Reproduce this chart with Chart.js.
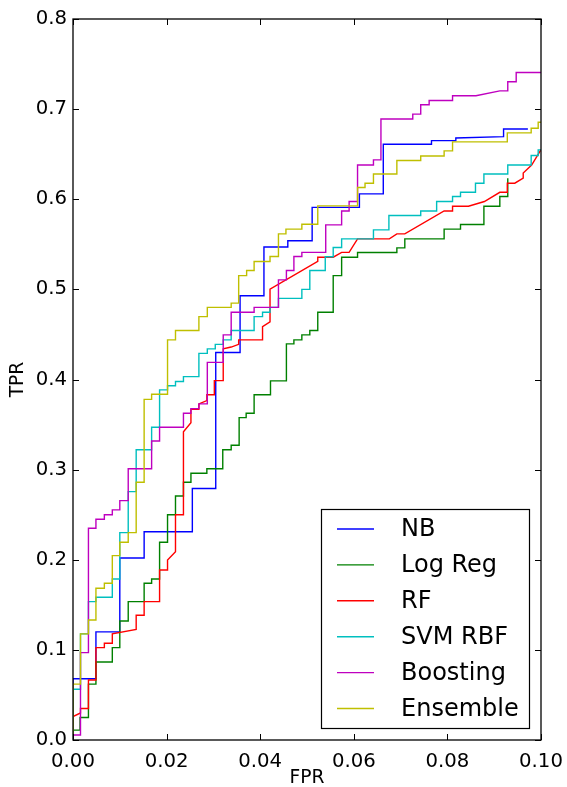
<!DOCTYPE html>
<html>
<head>
<meta charset="utf-8">
<script src="https://cdn.jsdelivr.net/npm/chart.js@4"></script>
<style>
  body { margin: 0; background: #fff; }
  canvas { display: block; }
</style>
</head>
<body>
<canvas id="roc" width="567" height="787"></canvas>
<script>
"use strict";

// ---- data ----
const modelNames = ["NB", "Log Reg", "RF", "SVM RBF", "Boosting", "Ensemble"];
const modelColors = ["#0000ff", "#008000", "#ff0000", "#00bfbf", "#bf00bf", "#bfbf00"];

const nbFpr  = [0, 0, 0.0049, 0.0049, 0.01, 0.01, 0.0152, 0.0152, 0.0255, 0.0255, 0.0305, 0.0305, 0.0357, 0.0357, 0.0408, 0.0408, 0.0459, 0.0459, 0.0511, 0.0511, 0.0612, 0.0612, 0.0663, 0.0663, 0.0766, 0.0766, 0.0818, 0.0818, 0.092, 0.092, 0.0972];
const nbTpr  = [0, 0.068, 0.068, 0.12, 0.12, 0.202, 0.202, 0.231, 0.231, 0.279, 0.279, 0.430, 0.430, 0.493, 0.493, 0.547, 0.547, 0.554, 0.554, 0.591, 0.591, 0.606, 0.606, 0.661, 0.661, 0.665, 0.665, 0.668, 0.6695, 0.678, 0.678];

const lrFpr  = [0, 0, 0.0015, 0.0015, 0.0033, 0.0033, 0.0049, 0.0049, 0.0084, 0.0084, 0.01, 0.01, 0.0118, 0.0118, 0.0152, 0.0152, 0.0168, 0.0168, 0.0185, 0.0185, 0.0202, 0.0202, 0.0219, 0.0219, 0.0236, 0.0236, 0.0252, 0.0252, 0.0286, 0.0286, 0.032, 0.032, 0.0338, 0.0338, 0.0355, 0.0355, 0.037, 0.037, 0.0387, 0.0387, 0.0422, 0.0422, 0.0456, 0.0456, 0.0472, 0.0472, 0.0489, 0.0489, 0.0506, 0.0506, 0.0523, 0.0523, 0.0556, 0.0556, 0.0574, 0.0574, 0.0608, 0.0608, 0.0692, 0.0692, 0.0709, 0.0709, 0.0793, 0.0793, 0.0828, 0.0828, 0.0878, 0.0878, 0.0912, 0.0912, 0.0929, 0.0929];
const lrTpr  = [0, 0.011, 0.011, 0.025, 0.025, 0.062, 0.062, 0.0866, 0.0866, 0.1025, 0.1025, 0.132, 0.132, 0.1535, 0.1535, 0.174, 0.174, 0.1787, 0.1787, 0.2194, 0.2194, 0.250, 0.250, 0.2708, 0.2708, 0.286, 0.286, 0.296, 0.296, 0.301, 0.301, 0.322, 0.322, 0.327, 0.327, 0.3577, 0.3577, 0.3626, 0.3626, 0.383, 0.383, 0.3985, 0.3985, 0.4395, 0.4395, 0.444, 0.444, 0.4495, 0.4495, 0.4543, 0.4543, 0.4747, 0.4747, 0.5153, 0.5153, 0.5357, 0.5357, 0.5409, 0.5409, 0.546, 0.546, 0.556, 0.556, 0.5668, 0.5668, 0.572, 0.572, 0.5923, 0.5923, 0.603, 0.603, 0.6234];

const rfFpr  = [0, 0, 0.0016, 0.0016, 0.0033, 0.0033, 0.0049, 0.0049, 0.0067, 0.0067, 0.0084, 0.0084, 0.0135, 0.0135, 0.0152, 0.0152, 0.0185, 0.0185, 0.0202, 0.0202, 0.0219, 0.0219, 0.0236, 0.0236, 0.0252, 0.0252, 0.0269, 0.0269, 0.0286, 0.0286, 0.0302, 0.0302, 0.0321, 0.0321, 0.0338, 0.0354, 0.0354, 0.0405, 0.0405, 0.0421, 0.0421, 0.0523, 0.0523, 0.0556, 0.0574, 0.059, 0.0608, 0.0676, 0.0692, 0.0709, 0.0793, 0.0811, 0.0811, 0.0845, 0.0879, 0.0912, 0.0928, 0.0928, 0.0944, 0.0962, 0.0962, 0.098, 0.1];
const rfTpr  = [0, 0.026, 0.030, 0.035, 0.035, 0.0666, 0.0666, 0.1025, 0.1025, 0.1073, 0.1073, 0.1177, 0.1228, 0.1384, 0.1384, 0.1535, 0.1535, 0.1887, 0.1887, 0.1998, 0.209, 0.25, 0.25, 0.342, 0.352, 0.367, 0.367, 0.3729, 0.3766, 0.383, 0.383, 0.3988, 0.3988, 0.434, 0.436, 0.439, 0.444, 0.444, 0.4587, 0.464, 0.5002, 0.531, 0.5357, 0.5357, 0.541, 0.541, 0.556, 0.556, 0.5616, 0.5616, 0.587, 0.587, 0.5923, 0.5923, 0.5975, 0.6077, 0.6077, 0.6178, 0.6178, 0.6234, 0.629, 0.638, 0.655];

const svmFpr = [0, 0, 0.0016, 0.0016, 0.0033, 0.0033, 0.0049, 0.0049, 0.0084, 0.0084, 0.01, 0.01, 0.0118, 0.0118, 0.0135, 0.0135, 0.0168, 0.0168, 0.0185, 0.0185, 0.0202, 0.0202, 0.0219, 0.0219, 0.0236, 0.0236, 0.0269, 0.0269, 0.0287, 0.0287, 0.0304, 0.0304, 0.0321, 0.0321, 0.0338, 0.0338, 0.0387, 0.0387, 0.0405, 0.0405, 0.0421, 0.0421, 0.0439, 0.0439, 0.0489, 0.0489, 0.0506, 0.0506, 0.0539, 0.0539, 0.0556, 0.0556, 0.0574, 0.0574, 0.0642, 0.0642, 0.0675, 0.0675, 0.0743, 0.0743, 0.0777, 0.0777, 0.0811, 0.0811, 0.0828, 0.0828, 0.086, 0.086, 0.0878, 0.0878, 0.0929, 0.0929, 0.0979, 0.0979, 0.0994, 0.0994, 0.1];
const svmTpr = [0, 0.0563, 0.0563, 0.1177, 0.1177, 0.1535, 0.1535, 0.1584, 0.1584, 0.1787, 0.1787, 0.2301, 0.2301, 0.2756, 0.2756, 0.322, 0.322, 0.347, 0.347, 0.3885, 0.3885, 0.393, 0.393, 0.3977, 0.3977, 0.4032, 0.4032, 0.429, 0.429, 0.434, 0.434, 0.439, 0.439, 0.444, 0.444, 0.4543, 0.4543, 0.4698, 0.4698, 0.4747, 0.4747, 0.480, 0.480, 0.490, 0.490, 0.500, 0.500, 0.5209, 0.5209, 0.5362, 0.5362, 0.5464, 0.5464, 0.556, 0.556, 0.566, 0.566, 0.582, 0.582, 0.587, 0.587, 0.5975, 0.5975, 0.603, 0.603, 0.6077, 0.6077, 0.6178, 0.6178, 0.628, 0.628, 0.638, 0.638, 0.6485, 0.6485, 0.6548, 0.6548];

const boostFpr = [0, 0, 0.0016, 0.0016, 0.0033, 0.0033, 0.0049, 0.0049, 0.0067, 0.0067, 0.0084, 0.0084, 0.01, 0.01, 0.0118, 0.0118, 0.0168, 0.0168, 0.0185, 0.0185, 0.0236, 0.0236, 0.0252, 0.0252, 0.0269, 0.0269, 0.0287, 0.0287, 0.0321, 0.0321, 0.0338, 0.0338, 0.0387, 0.0387, 0.0439, 0.0439, 0.0456, 0.0456, 0.0472, 0.0472, 0.0489, 0.0489, 0.054, 0.054, 0.0574, 0.0574, 0.059, 0.059, 0.0608, 0.0608, 0.0642, 0.0642, 0.0658, 0.0658, 0.0726, 0.0726, 0.0743, 0.0743, 0.0761, 0.0761, 0.0811, 0.0811, 0.0861, 0.0912, 0.0929, 0.0929, 0.0947, 0.0947, 0.1];
const boostTpr = [0, 0.0055, 0.0055, 0.097, 0.097, 0.235, 0.235, 0.245, 0.245, 0.25, 0.25, 0.2553, 0.2553, 0.2656, 0.2656, 0.301, 0.301, 0.3318, 0.3318, 0.347, 0.347, 0.3626, 0.3626, 0.3677, 0.3677, 0.373, 0.373, 0.419, 0.419, 0.4495, 0.4495, 0.4747, 0.4747, 0.48, 0.48, 0.5105, 0.5105, 0.5209, 0.5209, 0.5364, 0.5364, 0.541, 0.541, 0.5716, 0.5716, 0.587, 0.587, 0.5975, 0.5975, 0.638, 0.638, 0.6437, 0.6437, 0.689, 0.689, 0.6944, 0.6944, 0.7048, 0.7048, 0.7096, 0.7096, 0.7148, 0.7148, 0.7203, 0.7203, 0.7303, 0.7303, 0.7406, 0.7406];

const ensFpr = [0, 0, 0.0016, 0.0016, 0.0033, 0.0033, 0.0049, 0.0049, 0.0067, 0.0067, 0.0084, 0.0084, 0.01, 0.01, 0.0118, 0.0118, 0.0135, 0.0135, 0.0152, 0.0152, 0.0168, 0.0168, 0.0202, 0.0202, 0.0219, 0.0219, 0.0269, 0.0269, 0.0287, 0.0287, 0.0338, 0.0338, 0.0354, 0.0354, 0.0371, 0.0371, 0.0387, 0.0387, 0.0421, 0.0421, 0.0439, 0.0439, 0.0455, 0.0455, 0.0489, 0.0489, 0.0523, 0.0523, 0.0608, 0.0608, 0.0624, 0.0624, 0.0642, 0.0642, 0.0692, 0.0692, 0.0743, 0.0743, 0.0793, 0.0793, 0.0811, 0.0811, 0.0928, 0.0928, 0.0979, 0.0979, 0.0994, 0.0994, 0.1];
const ensTpr = [0, 0.062, 0.062, 0.1177, 0.1177, 0.1332, 0.1332, 0.1684, 0.1684, 0.174, 0.174, 0.2046, 0.2046, 0.2194, 0.2194, 0.2301, 0.2301, 0.286, 0.286, 0.378, 0.378, 0.3837, 0.3837, 0.444, 0.444, 0.4543, 0.4543, 0.4698, 0.4698, 0.48, 0.48, 0.4847, 0.4847, 0.5153, 0.5153, 0.521, 0.521, 0.5309, 0.5309, 0.5364, 0.5364, 0.5616, 0.5616, 0.5668, 0.5668, 0.5723, 0.5723, 0.5927, 0.5927, 0.613, 0.613, 0.6178, 0.6178, 0.628, 0.628, 0.643, 0.643, 0.648, 0.648, 0.6537, 0.6537, 0.6637, 0.6637, 0.6737, 0.6737, 0.6787, 0.6787, 0.6855, 0.6855];

const fprSeries = [nbFpr, lrFpr, rfFpr, svmFpr, boostFpr, ensFpr];
const tprSeries = [nbTpr, lrTpr, rfTpr, svmTpr, boostTpr, ensTpr];

const xTicks = [0, 0.02, 0.04, 0.06, 0.08, 0.1];
const yTicks = [0, 0.1, 0.2, 0.3, 0.4, 0.5, 0.6, 0.7, 0.8];

// ---- look ----
const FONT = "'DejaVu Sans', 'Liberation Sans', sans-serif";
const TICK_SIZE = 19.7;

const datasets = modelNames.map((name, i) => ({
  label: name,
  data: fprSeries[i].map((x, k) => ({ x, y: tprSeries[i][k] })),
  borderColor: modelColors[i],
  backgroundColor: modelColors[i],
  borderWidth: 1.4,
  pointRadius: 0,
  showLine: true,
  tension: 0,
  fill: false,
  order: modelNames.length - i   // later series on top, like matplotlib
}));

// frame + inward ticks on all four sides
const frameAndTicks = {
  id: "frameAndTicks",
  afterDatasetsDraw(chart) {
    const { ctx, chartArea: a, scales } = chart;
    const len = 6;
    ctx.save();
    ctx.strokeStyle = "#000";
    ctx.lineWidth = 1;
    ctx.beginPath();
    xTicks.forEach(v => {
      const px = Math.round(scales.x.getPixelForValue(v)) + 0.5;
      ctx.moveTo(px, a.bottom); ctx.lineTo(px, a.bottom - len);
      ctx.moveTo(px, a.top);    ctx.lineTo(px, a.top + len);
    });
    yTicks.forEach(v => {
      const py = Math.round(scales.y.getPixelForValue(v)) + 0.5;
      ctx.moveTo(a.left, py);  ctx.lineTo(a.left + len, py);
      ctx.moveTo(a.right, py); ctx.lineTo(a.right - len, py);
    });
    ctx.stroke();
    ctx.lineWidth = 1.3;
    ctx.strokeRect(a.left, a.top, a.right - a.left, a.bottom - a.top);
    ctx.restore();
  }
};

// legend box in the lower right corner
const boxLegend = {
  id: "boxLegend",
  afterDraw(chart) {
    const { ctx } = chart;
    const box = { x: 321, y: 509, w: 208, h: 219 };
    const rowY = 529, rowGap = 35.9;
    ctx.save();
    ctx.fillStyle = "#fff";
    ctx.fillRect(box.x, box.y, box.w, box.h);
    ctx.strokeStyle = "#000";
    ctx.lineWidth = 1.2;
    ctx.strokeRect(box.x + 0.5, box.y + 0.5, box.w, box.h);
    ctx.font = "24px " + FONT;
    ctx.textBaseline = "middle";
    chart.data.datasets.forEach((ds, i) => {
      const y = rowY + i * rowGap;
      ctx.strokeStyle = ds.borderColor;
      ctx.lineWidth = 1.4;
      ctx.beginPath();
      ctx.moveTo(337, y); ctx.lineTo(374, y);
      ctx.stroke();
      ctx.fillStyle = "#000";
      ctx.fillText(ds.label, 401, y + 1);
    });
    ctx.restore();
  }
};

new Chart(document.getElementById("roc"), {
  type: "scatter",
  data: { datasets },
  options: {
    responsive: false,
    animation: false,
    layout: { padding: { left: 0, top: 19, right: 26, bottom: 0 } },
    plugins: { legend: { display: false }, tooltip: { enabled: false } },
    scales: {
      x: {
        type: "linear", min: 0, max: 0.1,
        afterFit: s => { s.height = 47; s.paddingLeft = 0; s.paddingRight = 0; },
        afterBuildTicks: s => { s.ticks = xTicks.map(v => ({ value: v })); },
        grid: { display: false, drawTicks: false },
        border: { display: false },
        ticks: { color: "#000", padding: 10, maxRotation: 0, font: { family: FONT, size: TICK_SIZE },
                 callback: v => v.toFixed(2) },
        title: { display: true, text: "FPR", color: "#000",
                 font: { family: FONT, size: TICK_SIZE - 1, lineHeight: 1 },
                 padding: { top: 0, bottom: 0 } }
      },
      y: {
        type: "linear", min: 0, max: 0.8,
        afterFit: s => { s.width = 73; s.paddingTop = 0; s.paddingBottom = 0; },
        afterBuildTicks: s => { s.ticks = yTicks.map(v => ({ value: v })); },
        grid: { display: false, drawTicks: false },
        border: { display: false },
        ticks: { color: "#000", padding: 6, font: { family: FONT, size: TICK_SIZE },
                 callback: v => v.toFixed(1) },
        title: { display: true, text: "TPR", color: "#000",
                 font: { family: FONT, size: TICK_SIZE - 1, lineHeight: 1 },
                 padding: { top: 9, bottom: 0 } }
      }
    }
  },
  plugins: [frameAndTicks, boxLegend]
});
</script>
</body>
</html>
